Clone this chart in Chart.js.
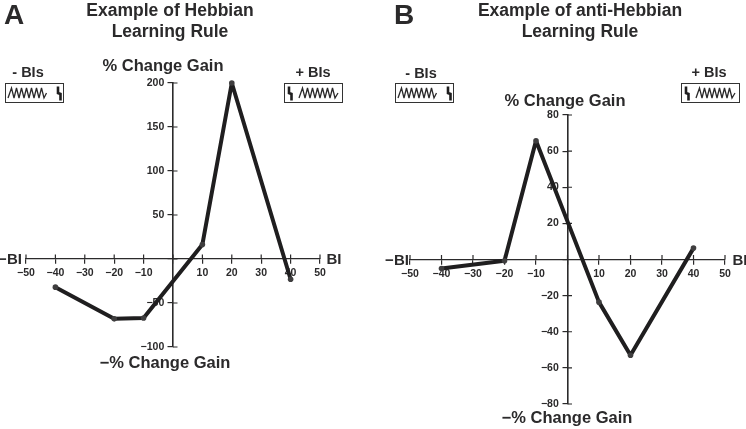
<!DOCTYPE html>
<html>
<head>
<meta charset="utf-8">
<script src="https://cdn.jsdelivr.net/npm/chart.js@4"></script>
<style>
html,body{margin:0;padding:0;background:#fff;width:746px;height:429px;overflow:hidden}
body{position:relative;font-family:"Liberation Sans",Arial,sans-serif;font-weight:bold;color:#2b2a2b}
canvas{position:absolute;top:0}
.t{position:absolute;transform:translate(-50%,-50%);white-space:nowrap;line-height:1}
.title{font-size:17.5px}.axis{font-size:16.5px}.bi{font-size:14.5px}.end{font-size:15px}.panel{font-size:28px}
svg{position:absolute}
</style>
</head>
<body>
<canvas id="chartA" style="left:0"></canvas>
<canvas id="chartB" style="left:373px"></canvas>

<div class="t panel" style="left:14px;top:15px">A</div>
<div class="t title" style="left:170px;top:11px">Example of Hebbian</div>
<div class="t title" style="left:170px;top:32px">Learning Rule</div>
<div class="t axis" style="left:163px;top:65px">% Change Gain</div>
<div class="t axis" style="left:165px;top:362px">−% Change Gain</div>
<div class="t bi" style="left:28px;top:72px">- BIs</div>
<div class="t bi" style="left:313px;top:72px">+ BIs</div>
<div class="t end" style="left:10px;top:258px">−BI</div>
<div class="t end" style="left:334px;top:258px">BI</div>

<div class="t panel" style="left:404px;top:15px">B</div>
<div class="t title" style="left:580px;top:11px">Example of anti-Hebbian</div>
<div class="t title" style="left:580px;top:32px">Learning Rule</div>
<div class="t axis" style="left:565px;top:100px">% Change Gain</div>
<div class="t axis" style="left:567px;top:417px">−% Change Gain</div>
<div class="t bi" style="left:421px;top:73px">- BIs</div>
<div class="t bi" style="left:709px;top:72px">+ BIs</div>
<div class="t end" style="left:397px;top:259px">−BI</div>
<div class="t end" style="left:740px;top:259px">BI</div>

<svg style="left:5px;top:83px" width="59" height="20"><use href="#minusIcon"/></svg>
<svg style="left:284px;top:83px" width="59" height="20"><use href="#plusIcon"/></svg>
<svg style="left:395px;top:83px" width="59" height="20"><use href="#minusIcon"/></svg>
<svg style="left:681px;top:83px" width="59" height="20"><use href="#plusIcon"/></svg>
<svg width="0" height="0" style="position:absolute">
  <defs>
    <g id="minusIcon">
      <rect x="0.5" y="0.5" width="58" height="19" fill="#fff" stroke="#333" stroke-width="1"/>
      <path d="M3 15L6.5 5L9 15L11.5 5L14 15L16.5 5L19 15L21.5 5L24 15L26.5 5L29 15L31.5 5L34 15L36.5 5L39 15L41.5 10" fill="none" stroke="#2b2a2b" stroke-width="1.3"/>
      <path d="M53 3.5L53 10L55.5 11L55.5 17.5" fill="none" stroke="#1f1e1f" stroke-width="2.6"/>
    </g>
    <g id="plusIcon">
      <rect x="0.5" y="0.5" width="58" height="19" fill="#fff" stroke="#333" stroke-width="1"/>
      <path d="M5 3.5L5 10L7.5 11L7.5 17.5" fill="none" stroke="#1f1e1f" stroke-width="2.6"/>
      <path d="M15 15L18.5 5L21 15L23.5 5L26 15L28.5 5L31 15L33.5 5L36 15L38.5 5L41 15L43.5 5L46 15L48.5 5L51 15L54 10" fill="none" stroke="#2b2a2b" stroke-width="1.3"/>
    </g>
  </defs>
</svg>

<script>
const xTicks = [-50, -40, -30, -20, -10, 0, 10, 20, 30, 40, 50];
const xValues = [-40, -20, -10, 10, 20, 40];

const hebbianGain = [-32, -68, -67, 16.5, 200, -23];
const hebbianTicks = [-100, -50, 0, 50, 100, 150, 200];

const antiHebbianGain = [-5, -0.7, 65.7, -23.6, -53, 6.3];
const antiHebbianTicks = [-80, -60, -40, -20, 0, 20, 40, 60, 80];

const ink = '#2b2a2b';
const tickFont = {family: '"Liberation Sans",Arial,sans-serif', size: 10.5, weight: 'bold'};
const xLabel = v => v === 0 ? '' : String(v).replace('-', '\u2212');
// Chart.js ignores tick padding on a value-positioned y axis, so keep the gap with no-break spaces.
const yLabel = v => v === 0 ? '' : xLabel(v) + '\u00a0\u00a0\u00a0';

// The reference ticks cross their axis: draw the far half of each tick from the scale.
const crossTicks = {
  id: 'crossTicks',
  beforeDatasetsDraw(chart) {
    const {x, y} = chart.scales, c = chart.ctx;
    c.save();
    c.strokeStyle = ink;
    c.lineWidth = 1.2;
    c.beginPath();
    x.ticks.forEach(t => {
      const p = x.getPixelForValue(t.value), y0 = y.getPixelForValue(0);
      c.moveTo(p, y0); c.lineTo(p, y0 - 4.5);
    });
    y.ticks.forEach(t => {
      const p = y.getPixelForValue(t.value), x0 = x.getPixelForValue(0);
      c.moveTo(x0, p); c.lineTo(x0 + 4.5, p);
    });
    c.stroke();
    c.restore();
  }
};

function makeChart(id, width, values, yTicks, yMin, yMax, padding, xPad) {
  const el = document.getElementById(id);
  el.width = width; el.height = 429;
  el.style.width = width + 'px'; el.style.height = '429px';
  return new Chart(el, {
    type: 'line',
    data: {
      datasets: [{
        data: xValues.map((x, i) => ({x, y: values[i]})),
        borderColor: '#1f1e1f',
        borderWidth: 4,
        borderJoinStyle: 'round',
        pointRadius: 2.8,
        pointBackgroundColor: '#3f3e3f',
        pointBorderWidth: 0,
        tension: 0,
        clip: false
      }]
    },
    plugins: [crossTicks],
    options: {
      responsive: false,
      animation: false,
      layout: {padding},
      plugins: {legend: {display: false}, tooltip: {enabled: false}},
      scales: {
        x: {
          type: 'linear', min: -50, max: 50,
          position: {y: 0},
          afterBuildTicks: s => { s.ticks = xTicks.map(value => ({value})); },
          grid: {drawOnChartArea: false, drawTicks: true, tickLength: 4.5, color: ink, lineWidth: 1.2},
          border: {display: true, color: ink, width: 1.2},
          ticks: {font: tickFont, color: ink, padding: xPad, maxRotation: 0, autoSkip: false, callback: xLabel}
        },
        y: {
          type: 'linear', min: yMin, max: yMax,
          position: {x: 0},
          afterBuildTicks: s => { s.ticks = yTicks.map(value => ({value})); },
          grid: {drawOnChartArea: false, drawTicks: true, tickLength: 4.5, color: ink, lineWidth: 1.2},
          border: {display: true, color: ink, width: 1.6},
          ticks: {font: tickFont, color: ink, autoSkip: false, callback: yLabel}
        }
      }
    }
  });
}

makeChart('chartA', 373, hebbianGain, hebbianTicks, -100, 200,
  {left: 26, right: 53, top: 83, bottom: 82}, 3);
makeChart('chartB', 373, antiHebbianGain, antiHebbianTicks, -80, 80,
  {left: 37, right: 21, top: 115, bottom: 25}, 4);
</script>
</body>
</html>
